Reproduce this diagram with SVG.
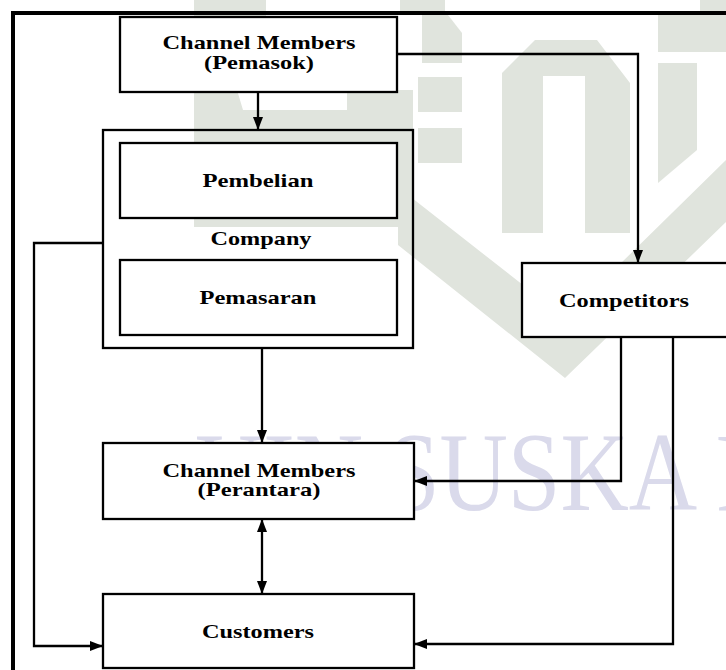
<svg xmlns="http://www.w3.org/2000/svg" width="726" height="670" viewBox="0 0 726 670">
<style>
.box{fill:#fff;stroke:#000;stroke-width:2.3}
.frame{fill:none;stroke:#000;stroke-width:2.3}
.lbl{font-family:"Liberation Serif","Times New Roman",serif;font-weight:bold;font-size:19.5px;fill:#000;text-anchor:middle}
.wire{fill:none;stroke:#000;stroke-width:2.3}
.wm{fill:#e0e4dd}
.wmt{font-family:"Liberation Serif","Times New Roman",serif;font-size:113px;fill:#dadaeb}
</style>
<defs>
<marker id="ah" markerUnits="userSpaceOnUse" markerWidth="13" markerHeight="10" refX="13" refY="5" orient="auto-start-reverse"><path d="M0,0 L13,5 L0,10 Z" fill="#000"/></marker>
</defs>
<rect width="726" height="670" fill="#fff"/>
<g id="watermark">
<path class="wm" d="M194,0 H266 V90 H237 L243,110 H347 V90 H413 V227 H194 Z"/>
<rect class="wm" x="400" y="0" width="45" height="12"/>
<path class="wm" d="M422,15 H448 L462,33 V63 H422 Z"/>
<rect class="wm" x="418" y="77" width="44" height="35"/>
<rect class="wm" x="418" y="128" width="44" height="35"/>
<path class="wm" fill-rule="evenodd" d="M502,73 L535,40 H597 L630,83 V233 H502 Z M543,76 H585 V233 H543 Z"/>
<rect class="wm" x="700" y="0" width="26" height="15"/>
<rect class="wm" x="658" y="15" width="68" height="37"/>
<path class="wm" d="M658,63 H697 V150 L658,183 Z"/>
<path class="wm" d="M398,187 L565,318 L726,160 V222 L565,378 L398,245 Z"/>
<text class="wmt" x="195" y="510" textLength="752" lengthAdjust="spacingAndGlyphs">UIN SUSKA RIAU</text>
</g>
<rect id="frame" x="13" y="13" width="800" height="800" fill="none" stroke="#000" stroke-width="4"/>
<g id="connectors">
<line class="wire" x1="258" y1="92" x2="258" y2="130" marker-end="url(#ah)"/>
<polyline class="wire" points="397,54 638,54 638,263" marker-end="url(#ah)"/>
<line class="wire" x1="262" y1="348" x2="262" y2="443" marker-end="url(#ah)"/>
<line class="wire" x1="262" y1="519" x2="262" y2="594" marker-start="url(#ah)" marker-end="url(#ah)"/>
<polyline class="wire" points="103,243 34,243 34,646 103,646" marker-end="url(#ah)"/>
<polyline class="wire" points="621,337 621,481 414,481" marker-end="url(#ah)"/>
<polyline class="wire" points="673,337 673,644 414,644" marker-end="url(#ah)"/>
</g>
<g id="pemasok">
<rect class="box" x="120" y="17" width="277" height="75"/>
<text class="lbl" x="259" y="49" textLength="193" lengthAdjust="spacingAndGlyphs">Channel Members</text>
<text class="lbl" x="259" y="69" textLength="110" lengthAdjust="spacingAndGlyphs">(Pemasok)</text>
</g>
<g id="company">
<rect class="frame" x="103" y="130" width="310" height="218"/>
<text class="lbl" x="261" y="245" textLength="101" lengthAdjust="spacingAndGlyphs">Company</text>
</g>
<g id="pembelian">
<rect class="box" x="120" y="143" width="277" height="75"/>
<text class="lbl" x="258" y="187" textLength="111" lengthAdjust="spacingAndGlyphs">Pembelian</text>
</g>
<g id="pemasaran">
<rect class="box" x="120" y="260" width="277" height="75"/>
<text class="lbl" x="258" y="304" textLength="117" lengthAdjust="spacingAndGlyphs">Pemasaran</text>
</g>
<g id="competitors">
<rect class="box" x="522" y="263" width="230" height="74"/>
<text class="lbl" x="624" y="307" textLength="130" lengthAdjust="spacingAndGlyphs">Competitors</text>
</g>
<g id="perantara">
<rect class="box" x="103" y="443" width="311" height="76"/>
<text class="lbl" x="259" y="477" textLength="193" lengthAdjust="spacingAndGlyphs">Channel Members</text>
<text class="lbl" x="259" y="496" textLength="123" lengthAdjust="spacingAndGlyphs">(Perantara)</text>
</g>
<g id="customers">
<rect class="box" x="103" y="594" width="311" height="74"/>
<text class="lbl" x="258" y="638" textLength="112" lengthAdjust="spacingAndGlyphs">Customers</text>
</g>
</svg>
